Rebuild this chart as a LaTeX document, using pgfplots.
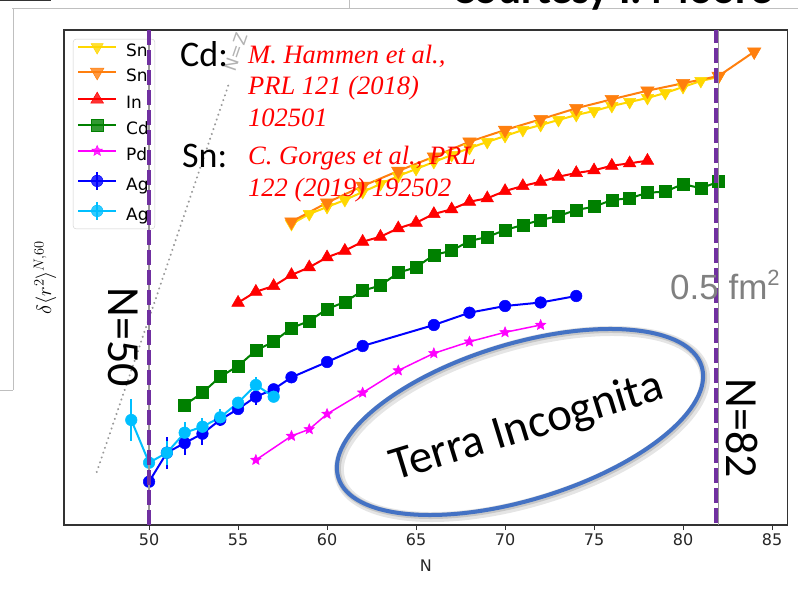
\documentclass[border=0pt]{standalone}
\usepackage{fontspec}
\setmainfont{DejaVu Sans}
\newfontfamily\carlito{Carlito}
\newfontfamily\libserif{Liberation Serif}
\newfontfamily\libsans{Liberation Sans}
\usepackage{pgfplots}
\pgfplotsset{compat=1.18}
\definecolor{cSnY}{HTML}{FFD700}
\definecolor{cSnO}{HTML}{FF7F0E}
\definecolor{cIn}{HTML}{FF0000}
\definecolor{cCd}{HTML}{008000}
\definecolor{cPd}{HTML}{FF00FF}
\definecolor{cAg}{HTML}{0000FF}
\definecolor{cAgB}{HTML}{00BFFF}
\definecolor{cPurple}{HTML}{7030A0}
\definecolor{cEll}{HTML}{4472C4}
\pgfdeclareplotmark{fstar}{%
  \pgfpathmoveto{\pgfpointpolar{90}{\pgfplotmarksize}}%
  \pgfpathlineto{\pgfpointpolar{126}{0.45\pgfplotmarksize}}%
  \pgfpathlineto{\pgfpointpolar{162}{\pgfplotmarksize}}%
  \pgfpathlineto{\pgfpointpolar{198}{0.45\pgfplotmarksize}}%
  \pgfpathlineto{\pgfpointpolar{234}{\pgfplotmarksize}}%
  \pgfpathlineto{\pgfpointpolar{270}{0.45\pgfplotmarksize}}%
  \pgfpathlineto{\pgfpointpolar{306}{\pgfplotmarksize}}%
  \pgfpathlineto{\pgfpointpolar{342}{0.45\pgfplotmarksize}}%
  \pgfpathlineto{\pgfpointpolar{18}{\pgfplotmarksize}}%
  \pgfpathlineto{\pgfpointpolar{54}{0.45\pgfplotmarksize}}%
  \pgfpathclose
  \pgfusepathqfillstroke}
\begin{document}
\begin{tikzpicture}[x=1pt,y=1pt]
\useasboundingbox (0,0) rectangle (798,592);
% slide frame
\draw[black!25, line width=0.8pt] (12,584)--(798,584);
\draw[black!25, line width=0.8pt] (349,592)--(349,584);
\draw[black!25, line width=0.8pt] (13,584)--(13,202);
\draw[black!25, line width=0.8pt] (0,202)--(13,202);
\draw[black!80, line width=2pt] (0,592)--(51,592);
\node[anchor=base west, inner sep=0pt] at (452,588) {\carlito\bfseries\fontsize{43}{43}\selectfont Courtesy I. Moore};
\begin{axis}[
  at={(64pt,67pt)}, anchor=south west,
  scale only axis, width=723.5pt, height=495pt,
  xmin=45.22, xmax=85.87, ymin=0, ymax=495,
  xtick={50,55,60,65,70,75,80,85}, ytick=\empty,
  xtick pos=left, tick align=outside, major tick length=5pt,
  tick style={black!80, line width=1pt},
  axis line style={black!80, line width=1.2pt},
  /pgf/number format/assume math mode=true,
  xticklabel style={font=\fontsize{16}{16}\selectfont, text=black!85},
  xlabel={N}, xlabel style={font=\fontsize{16}{16}\selectfont, text=black!85, at={(axis description cs:0.5,-0.0828)}, anchor=center},
  ylabel={$\delta\langle r^2\rangle^{N,60}$},
  ylabel style={font=\fontsize{21}{21}\selectfont, at={(axis description cs:-0.0263,0.5)}, anchor=center},
  legend style={at={(axis description cs:0.0124,0.982)}, anchor=north west,
    draw=black!20, rounded corners=3pt, fill=white, fill opacity=0.8, text opacity=1,
    font=\fontsize{17}{17}\selectfont, inner xsep=4pt, inner ysep=3pt,
    row sep=5pt, column sep=7pt,
    nodes={inner sep=2pt, text height=12.5pt, text depth=3.5pt}},
  legend cell align=left,
  legend image code/.code={%
    \draw[mark repeat=2,mark phase=2] plot coordinates {(0pt,5pt) (19pt,5pt) (38pt,5pt)};
  },
  error bars/y dir=both, error bars/y explicit,
  error bars/error mark=none,
  error bars/error bar style={line width=2pt},
]
\addplot[black!40, line width=2.2pt, line cap=round, dash pattern=on 0.1pt off 5pt, forget plot]
  coordinates {(47.06,53) (54.46,440)};
\addplot[cSnY, line width=2pt, mark=triangle*, mark size=7pt, mark options={rotate=180, line width=0.5pt}]
  coordinates {(58,301) (59,311) (60,318) (61,325) (62,333) (63,341) (64,349) (65,356) (66,363) (67,370) (68,377) (69,383) (70,389) (71,395) (72,400) (73,405) (74,410) (75,414) (76,419) (77,423) (78,427) (79,432) (80,438) (81,444) (82,448)};
\addplot[cSnO, line width=2pt, mark=triangle*, mark size=7.8pt, mark options={rotate=180, line width=0.5pt}]
  coordinates {(58,303.3) (60,322.3) (62,339) (64,354) (66,368.3) (68,383.3) (70,395) (72,405.7) (74,416.7) (76,425.7) (78,434.3) (80,441.7) (82,449) (84,473.3)};
\addplot[cIn, line width=2pt, mark=triangle*, mark size=7.3pt, mark options={line width=0.5pt}]
  coordinates {(55,222.3) (56,233.3) (57,239) (58,250) (59,257.7) (60,267.7) (61,274.3) (62,283.3) (63,288.3) (64,296.7) (65,302.3) (66,311) (67,315.7) (68,323.3) (69,326.7) (70,334) (71,339) (72,343.3) (73,348.3) (74,352) (75,354.7) (76,359.3) (77,361.7) (78,364.3)};
\addplot[cCd, line width=2pt, mark=square*, mark size=6pt, mark options={line width=0.5pt}]
  coordinates {(52,120) (53,132.3) (54,148.3) (55,159) (56,174.5) (57,183.3) (58,197) (59,204) (60,216) (61,223) (62,234.3) (63,239.5) (64,252.3) (65,257.7) (66,270) (67,274.3) (68,284) (69,288) (70,295) (71,300) (72,305) (73,309) (74,315) (75,318.3) (76,325) (77,326.7) (78,332.3) (79,333.3) (80,341) (81,336.7) (82,343.3)};
\addplot[cPd, line width=1.5pt, mark=fstar, mark size=5.5pt, mark options={line width=0.5pt}]
  coordinates {(56,65) (58,89) (59,95.7) (60,111) (62,132.3) (64,154.5) (66,171.7) (68,183.3) (70,192.7) (72,200)};
\addplot[cAg, line width=2pt, mark=*, mark size=5.8pt, mark options={line width=0.5pt},
  legend image code/.code={%
    \draw[line width=2pt] (19pt,-4pt)--(19pt,14pt);
    \draw[mark repeat=2,mark phase=2] plot coordinates {(0pt,5pt) (19pt,5pt) (38pt,5pt)};}]
  coordinates {(50,43.3) +- (0,16) (51,72.3) +- (0,16) (52,82) +- (0,12) (53,91.3) +- (0,11) (54,105.3) +- (0,6) (55,116) +- (0,4) (56,128.3) +- (0,8) (57,135.7) +- (0,5) (58,147.7) +- (0,3) (60,163) +- (0,2) (62,179) +- (0,2) (66,200) +- (0,2) (68,212.3) +- (0,2) (70,219) +- (0,2) (72,222.5) +- (0,2) (74,229) +- (0,2)};
\addplot[cAgB, line width=2pt, mark=*, mark size=5.8pt, mark options={line width=0.5pt},
  legend image code/.code={%
    \draw[line width=2pt] (19pt,-4pt)--(19pt,14pt);
    \draw[mark repeat=2,mark phase=2] plot coordinates {(0pt,5pt) (19pt,5pt) (38pt,5pt)};}]
  coordinates {(49,105) +- (0,21) (50,62.3) +- (0,8) (51,72.3) +- (0,12) (52,92.3) +- (0,11) (53,98.3) +- (0,9) (54,107.7) +- (0,8) (55,122.3) +- (0,6) (56,140) +- (0,8) (57,128.3) +- (0,3)};
\legend{Sn,Sn,In,Cd,Pd,Ag,Ag}
\coordinate (g50b) at (axis cs:50,0);
\coordinate (g50t) at (axis cs:50,495);
\coordinate (g82b) at (axis cs:82,0);
\coordinate (g82t) at (axis cs:82,495);
\end{axis}
% magic number lines
\draw[black!40, line width=1.5pt] (g50b) -- (g50t);
\draw[cPurple, line width=4pt, dash pattern=on 15pt off 5pt] (g50b) -- ([yshift=3pt]g50t);
\draw[black!40, line width=1.5pt] (g82b) -- (g82t);
\draw[cPurple, line width=4pt, dash pattern=on 15pt off 5pt] ([xshift=-3pt,yshift=2pt]g82b) -- ([xshift=-3pt]g82t);
% annotations
\node[rotate=71, text=black!30, inner sep=0pt] at (236,540) {\fontsize{17}{17}\selectfont N=Z};
\node[anchor=base west, inner sep=0pt] at (180,525) {\carlito\fontsize{36}{36}\selectfont Cd:};
\node[anchor=base west, inner sep=0pt] at (182,424) {\carlito\fontsize{36}{36}\selectfont Sn:};
\begin{scope}[every node/.style={anchor=base west, inner sep=0pt, text=red, font=\libserif\itshape\fontsize{26.5}{26.5}\selectfont}]
\node at (248,528.7) {M. Hammen et al.,};
\node at (248,497) {PRL 121 (2018)};
\node at (248,465.3) {102501};
\node at (248,427) {C. Gorges et al., PRL};
\node at (248,395.3) {122 (2019) 192502};
\end{scope}
\node[rotate=-90, inner sep=0pt] at (123.5,255) {\carlito\fontsize{46}{46}\selectfont N=50};
\node[rotate=-90, inner sep=0pt] at (742,164) {\carlito\fontsize{46}{46}\selectfont N=82};
\node[anchor=base west, inner sep=0pt, text=black!50] at (670,292) {\libsans\fontsize{35}{35}\selectfont 0.5 fm\raisebox{0.42em}{\fontsize{22}{22}\selectfont 2}};
% Terra Incognita
\draw[black!10, line width=10pt, rotate around={17:(522,168)}] (522,168) ellipse [x radius=190, y radius=78];
\draw[black!22, line width=6pt, rotate around={17:(521,169)}] (521,169) ellipse [x radius=190, y radius=78];
\draw[cEll, line width=4pt, rotate around={17:(520,170)}] (520,170) ellipse [x radius=190, y radius=78];
\node[rotate=17, inner sep=0pt] at (527,164) {\carlito\fontsize{47}{47}\selectfont Terra Incognita};
\end{tikzpicture}
\end{document}
